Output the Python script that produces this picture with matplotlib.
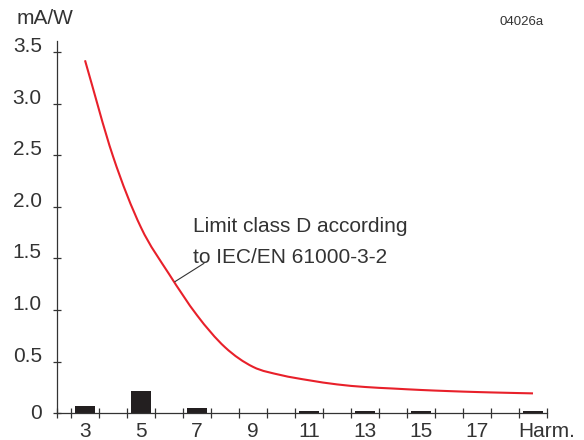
import numpy as np
import matplotlib
matplotlib.use("Agg")
import matplotlib.pyplot as plt
from matplotlib.path import Path
from matplotlib.patches import PathPatch

# measured harmonic currents (mA/W) at odd harmonics
harmonics = [3, 5, 7, 9, 11, 13, 15, 17, 19]
measured = [0.07, 0.215, 0.05, 0.005, 0.025, 0.018, 0.018, 0.0, 0.018]

# class D limit curve at each harmonic
limit_h = [3, 4, 5, 6, 7, 8, 9, 10, 11, 12, 13, 14, 15, 16, 17, 18, 19]
limit_v = [3.42, 2.49, 1.80, 1.35, 0.95, 0.64, 0.45, 0.37, 0.32, 0.28, 0.255,
           0.24, 0.226, 0.215, 0.206, 0.199, 0.193]

y_ticks = [0, 0.5, 1.0, 1.5, 2.0, 2.5, 3.0, 3.5]
y_labels = ["0", "0.5", "1.0", "1.5", "2.0", "2.5", "3.0", "3.5"]
x_labels = ["3", "5", "7", "9", "11", "13", "15", "17", "Harm."]

TXT = "#333333"
plt.rcParams['font.family'] = ['Liberation Sans', 'DejaVu Sans']
plt.rcParams['font.size'] = 15


def smooth_path(xs, ys):
    # catmull-rom through the read points, drawn as cubic bezier segments
    p = np.column_stack([xs, ys]).astype(float)
    p = np.vstack([2 * p[0] - p[1], p, 2 * p[-1] - p[-2]])
    verts = [p[1]]
    codes = [Path.MOVETO]
    for i in range(1, len(p) - 2):
        c1 = p[i] + (p[i + 1] - p[i - 1]) / 6
        c2 = p[i + 1] - (p[i + 2] - p[i]) / 6
        verts += [c1, c2, p[i + 1]]
        codes += [Path.CURVE4] * 3
    return Path(verts, codes)


fig = plt.figure(figsize=(5.84, 4.40), dpi=100)
ax = fig.add_axes([57 / 584, 26.7 / 440, 490 / 584, 372.6 / 440])

ax.bar(harmonics, measured, width=0.74, color="#231f20")
ax.add_patch(PathPatch(smooth_path(limit_h, limit_v), fill=False,
                       edgecolor="#e8202a", linewidth=1.5, capstyle='butt'))

ax.set_xlim(2, 19.5)
ax.set_ylim(0, 3.61)

for side in ("top", "right"):
    ax.spines[side].set_visible(False)
for side in ("left", "bottom"):
    ax.spines[side].set_color(TXT)
    ax.spines[side].set_linewidth(0.9)

# tick marks between harmonics, labels in the middle of the odd ones
ax.xaxis.remove_overlapping_locs = False
ax.set_xticks([2] + list(np.arange(2.5, 19.6, 1.0)))
ax.set_xticklabels([])
ax.set_xticks([3, 5, 7, 9, 11, 13, 15, 17, 19.5], minor=True)
ax.set_xticklabels(x_labels, minor=True)
ax.tick_params(axis='x', which='major', direction='inout', length=7.7, width=0.9, color=TXT)
ax.tick_params(axis='x', which='minor', length=0, pad=6, labelcolor=TXT, labelsize=15)

ax.set_yticks(y_ticks, y_labels)
ax.tick_params(axis='y', direction='inout', length=5.8, width=0.9, color=TXT,
               pad=8, labelcolor=TXT, labelsize=15)
for i, lab in enumerate(ax.get_yticklabels()):
    lab.set_verticalalignment('center' if i == 0 else 'baseline')

ax.annotate("", xy=(6.21, 1.275), xytext=(7.25, 1.453),
            arrowprops=dict(arrowstyle='-', color=TXT, linewidth=0.8,
                            shrinkA=0, shrinkB=0))
ax.text(6.86, 1.757, "Limit class D according", color=TXT, fontsize=15,
        ha='left', va='baseline')
ax.text(6.86, 1.459, "to IEC/EN 61000-3-2", color=TXT, fontsize=15,
        ha='left', va='baseline')

fig.text(17 / 584, 1 - 18 / 440, "mA/W", color=TXT, fontsize=15, ha='left', va='center')
fig.text(499 / 584, 1 - 22 / 440, "04026a", color=TXT, fontsize=9.5, ha='left', va='center')

fig.savefig("out.png", dpi=100)
